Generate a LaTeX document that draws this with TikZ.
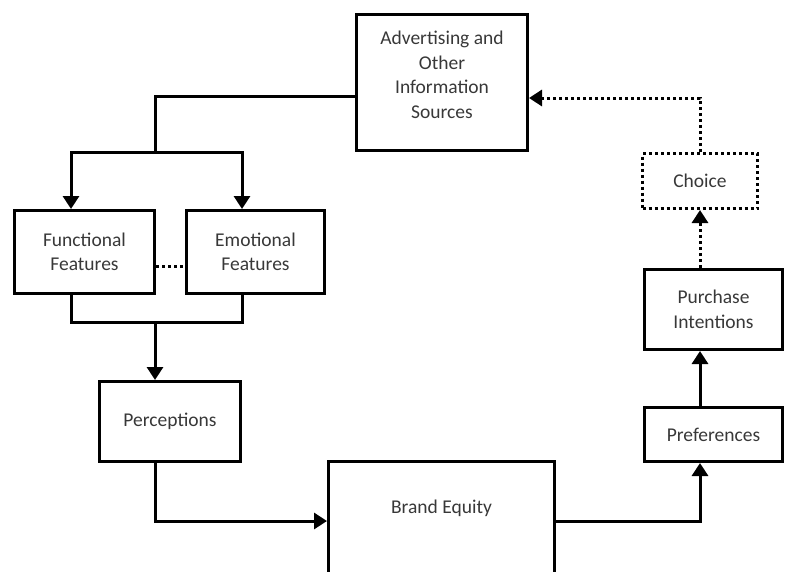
\documentclass[tikz,border=0pt]{standalone}
\usepackage{fontspec}
\setmainfont{Carlito}
\usetikzlibrary{arrows.meta, positioning, calc}

\begin{document}
\begin{tikzpicture}[
            x = 1pt, y = -1pt, % one unit per pixel, y runs down
            > = {Triangle[width=16pt, length=13pt]}, % arrow head style
            line width = 3pt, % line style
            font = \fontsize{19.5}{24.5}\selectfont,
            text = black!78
        ]

        \tikzstyle{box}=[
            draw = black,
            rectangle,
            align = center,
            inner sep = 0pt
        ]
        \tikzstyle{dotbox}=[
            box,
            dash pattern = on 3pt off 3pt
        ]
        \tikzstyle{dots}=[dash pattern = on 3pt off 3pt]

        \useasboundingbox (0,0) rectangle (792,571);
        \clip (0,0) rectangle (792,571);

        \node[box, minimum width=171pt, minimum height=136pt] (adv) at (442,82.5) {};
        \node[align=center] (advtxt) at ($(adv.center)+(0,-7.5)$) {Advertising and\\Other\\Information\\Sources};
        \node[box, minimum width=140pt, minimum height=83pt] (func) at (84.5,252) {Functional\\Features};
        \node[box, minimum width=138pt, minimum height=83pt] (emo) at (255.5,252) {Emotional\\Features};
        \node[box, minimum width=141pt, minimum height=80pt] (perc) at (170,421.5) {Perceptions};
        \node[box, minimum width=226pt, minimum height=119pt] (brand) at (441.5,521) {};
        \node (brandtxt) at ($(brand.north)+(0,48)$) {Brand Equity};
        \node[box, minimum width=138pt, minimum height=54pt] (pref) at (713.5,434.5) {Preferences};
        \node[box, minimum width=138pt, minimum height=80pt] (purch) at (713.5,309.5) {Purchase\\Intentions};
        \node[dotbox, minimum width=115pt, minimum height=55pt] (choice) at (700,181) {Choice};

        \coordinate (fork) at (155,152);
        \coordinate (join) at (155,322);

        % information reaches both kinds of features
        \draw ([yshift=-13.5pt]adv.west) -| (fork);
        \draw[->] (fork) -| ([xshift=-13.5pt]func.north);
        \draw[->] (fork) -| ([xshift=-13.5pt]emo.north);
        \draw[dots] ([yshift=-14pt]func.east) -- ([yshift=-14pt]emo.west);

        % features into perceptions, then round the loop
        \draw ([xshift=-13.5pt]func.south) |- (join) -| ([xshift=-13.5pt]emo.south);
        \draw[->] (join) -- (join |- perc.north);
        \draw[->] (join |- perc.south) |- (brand.west);
        \draw[->] (brand.east) -| ([xshift=-13.5pt]pref.south);
        \draw[->] ([xshift=-13.5pt]pref.north) -- ([xshift=-13.5pt]purch.south);
        \draw[->, dots] ([xshift=-13.5pt]purch.north) -- (choice.south);
        \draw[->, dots] (choice.north) |- ([yshift=-15.5pt]adv.east);
    \end{tikzpicture}
\end{document}
